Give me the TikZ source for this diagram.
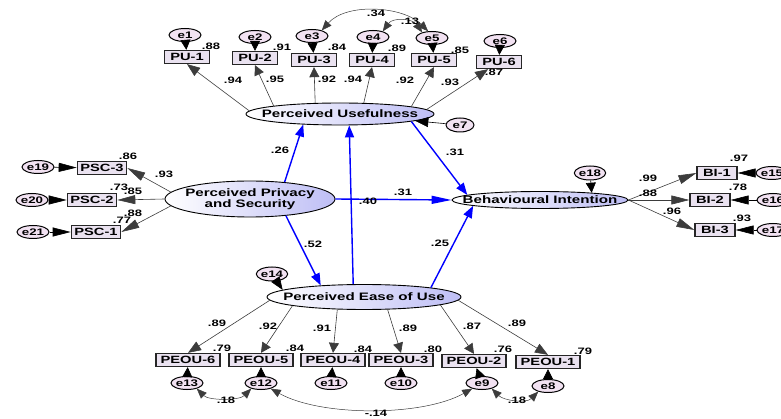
\documentclass[tikz,border=0pt]{standalone}
\usepackage{fontspec}
\setmainfont{Liberation Sans}[FakeStretch=1.4]
\usetikzlibrary{arrows.meta,shapes.geometric}
\definecolor{latR}{RGB}{190,190,245}
\definecolor{boxF}{RGB}{234,226,240}
\definecolor{errF}{RGB}{242,226,242}
\definecolor{ldC}{RGB}{60,60,60}
\begin{document}
\begin{tikzpicture}[x=1pt,y=-1pt,
  tv/.tip={Triangle[length=10pt,width=10pt]},
  td/.tip={Triangle[length=13pt,width=10pt]},
  th/.tip={Triangle[length=18pt,width=9pt]},
  bv/.tip={Triangle[length=12pt,width=9pt]},
  bh/.tip={Triangle[length=20pt,width=8pt]},
  ct/.tip={Triangle[length=10pt,width=8pt]},
  lat/.style={ellipse, draw=black, line width=0.9pt, left color=white, right color=latR, inner sep=0pt},
  lattxt/.style={font=\fontsize{10.8}{11}\selectfont\bfseries, align=center, inner sep=0pt},
  obs/.style={rectangle, draw=black!85, line width=1.3pt, fill=boxF, minimum height=13pt, inner xsep=3pt, inner ysep=0pt, font=\fontsize{10.5}{11}\selectfont\bfseries},
  err/.style={ellipse, draw=black, line width=1pt, fill=errF, minimum width=32pt, minimum height=13pt, inner sep=0pt, font=\fontsize{9.5}{10}\selectfont\bfseries},
  coef/.style={font=\fontsize{9.3}{10}\selectfont\bfseries, inner sep=0pt},
  ln/.style={draw=ldC, line width=0.6pt},
  ea/.style={draw=black, line width=0.6pt},
  bl/.style={draw=blue, line width=1.4pt},
  cov/.style={draw=ldC, line width=0.5pt, ct-ct}
]
\useasboundingbox (0,0) rectangle (781,419);
\clip (0,0) rectangle (781,419);

% latent variables
\node[lat, minimum width=188pt, minimum height=22pt, label={[lattxt,name=PUt]center:Perceived Usefulness}] (PU) at (340,114) {};
\node[lat, minimum width=170pt, minimum height=36pt, label={[lattxt,name=PPSt]center:Perceived Privacy\\and Security}] (PPS) at (250,199) {};
\node[lat, minimum width=194pt, minimum height=25pt, label={[lattxt,name=PEOUt]center:Perceived Ease of Use}] (PEOU) at (364,297) {};
\node[lat, minimum width=176pt, minimum height=17pt, label={[lattxt,name=BIt]center:Behavioural Intention}] (BI) at (540,200) {};

% PU indicators
\node[obs, minimum width=45pt] (PU1) at (187,57) {PU-1};
\node[obs, minimum width=45pt] (PU2) at (255,58) {PU-2};
\node[obs, minimum width=45pt] (PU3) at (314,60) {PU-3};
\node[obs, minimum width=45pt] (PU4) at (372,60) {PU-4};
\node[obs, minimum width=45pt] (PU5) at (434,60) {PU-5};
\node[obs, minimum width=45pt] (PU6) at (499,62) {PU-6};
\node[err] (e1) at (185,35) {e1};
\node[err] (e2) at (255,37) {e2};
\node[err] (e3) at (312,36) {e3};
\node[err] (e4) at (373,37) {e4};
\node[err] (e5) at (432,38) {e5};
\node[err] (e6) at (500,41) {e6};

% PSC indicators
\node[obs, minimum width=49pt] (PSC3) at (102,168) {PSC-3};
\node[obs, minimum width=49pt] (PSC2) at (92,200) {PSC-2};
\node[obs, minimum width=49pt] (PSC1) at (96,232) {PSC-1};
\node[err] (e19) at (38,167) {e19};
\node[err] (e20) at (32,200) {e20};
\node[err] (e21) at (33,232) {e21};

% BI indicators
\node[obs, minimum width=40pt] (BI1) at (717,173) {BI-1};
\node[obs, minimum width=40pt] (BI2) at (710,200) {BI-2};
\node[obs, minimum width=40pt] (BI3) at (715,230) {BI-3};
\node[err] (e15) at (772,173) {e15};
\node[err] (e16) at (773,200) {e16};
\node[err] (e17) at (773,230) {e17};

% PEOU indicators
\node[obs, minimum width=64pt] (PEOU6) at (188,360) {PEOU-6};
\node[obs, minimum width=64pt] (PEOU5) at (261,360) {PEOU-5};
\node[obs, minimum width=64pt] (PEOU4) at (333,360) {PEOU-4};
\node[obs, minimum width=64pt] (PEOU3) at (401,360) {PEOU-3};
\node[obs, minimum width=64pt] (PEOU2) at (474,361) {PEOU-2};
\node[obs, minimum width=64pt] (PEOU1) at (548,362) {PEOU-1};
\node[err] (e13) at (187,383) {e13};
\node[err] (e12) at (261,383) {e12};
\node[err] (e11) at (331,383) {e11};
\node[err] (e10) at (401,383) {e10};
\node[err] (e9) at (482,383) {e9};
\node[err] (e8) at (548,386) {e8};

% latent errors
\node[err, minimum width=28pt, minimum height=14pt] (e7) at (460,125) {e7};
\node[err, minimum width=28pt, minimum height=14pt] (e18) at (590,173) {e18};
\node[err, minimum width=28pt, minimum height=14pt] (e14) at (272,274) {e14};

\node[coef] (k6) at (494,72) {.87};

% loadings PU
\draw[ln,-td] (PU.178) -- (PU1.south);
\draw[ln,-tv] (PU.173) -- (PU2.south);
\draw[ln,-tv] (PU.156) -- (PU3.south);
\draw[ln,-tv] (PU.25) -- (PU4.south);
\draw[ln,-tv] (PU.6) -- (PU5.south);
\draw[ln,-td] (PU.3) -- (PU6);
\foreach \i in {1,...,6} {\draw[ea,-tv] (e\i) -- (PU\i);}

% loadings PSC
\draw[ln,-th] (PPS.175) -- (PSC3.east);
\draw[ln,-th] (PPS.west) -- (PSC2.east);
\draw[ln,-th] (PPS.185) -- (PSC1.east);
\draw[ea,-th] (e19) -- (PSC3);
\draw[ea,-th] (e20) -- (PSC2);
\draw[ea,-th] (e21) -- (PSC1);

% loadings BI
\draw[ln,-th] (BI.east) -- (BI1.west);
\draw[ln,-th] (BI.east) -- (BI2.west);
\draw[ln,-th] (BI.east) -- (BI3.west);
\draw[ea,-th] (e15) -- (BI1);
\draw[ea,-th] (e16) -- (BI2);
\draw[ea,-th] (e17) -- (BI3);

% loadings PEOU
\draw[ln,-td] (PEOU.182) -- (PEOU6.north);
\draw[ln,-tv] (PEOU.187) -- (PEOU5.north);
\draw[ln,-tv] (PEOU.205) -- (PEOU4.north);
\draw[ln,-tv] (PEOU.332) -- (PEOU3.north);
\draw[ln,-tv] (PEOU.354) -- (PEOU2.north);
\draw[ln,-td] (PEOU.358) -- (PEOU1.north);
\draw[ea,-tv] (e13) -- (PEOU6);
\draw[ea,-tv] (e12) -- (PEOU5);
\draw[ea,-tv] (e11) -- (PEOU4);
\draw[ea,-tv] (e10) -- (PEOU3);
\draw[ea,-tv] (e9) -- (PEOU2);
\draw[ea,-tv] (e8) -- (PEOU1);

% latent errors
\draw[ea,-td] (e7) -- (PU);
\draw[ea,-tv] (e18) -- (BI.8);
\draw[ea,-td] (e14) -- (PEOU.175);

% structural paths
\draw[bl,-bv] (PPS.26) -- (PU.196);
\draw[bl,-bv] (PEOU.130) -- (PU.309);
\draw[bl,-bv] (PU.354) -- (BI.176);
\draw[bl,-bh] (PPS.east) -- (BI.west);
\draw[bl,-bv] (PPS.335) -- (PEOU.165);
\draw[bl,-bv] (PEOU.8) -- (BI.185);

% covariances
\draw[cov] (e3.30) .. controls +(25,-28) and +(-25,-25) .. (e5.120);
\draw[cov] (e4.30) .. controls +(10,-14) and +(-10,-14) .. (e5.150);
\draw[cov] (e13.-30) .. controls +(12,12) and +(-12,12) .. (e12.-150);
\draw[cov] (e12.-30) .. controls +(50,28) and +(-50,28) .. (e9.-150);
\draw[cov] (e9.-30) .. controls +(12,12) and +(-12,12) .. (e8.-150);

% coefficients
\node[coef] (k1) at (211,46) {.88};
\node[coef] (k2) at (282,47) {.91};
\node[coef] (k3) at (337,47) {.84};
\node[coef] (k4) at (397,48) {.89};
\node[coef] (k5) at (460,50) {.85};
\node[coef] (m1) at (233,80) {.94};
\node[coef] (m2) at (275,79) {.95};
\node[coef] (m3) at (327,79) {.92};
\node[coef] (m4) at (353,79) {.94};
\node[coef] (m5) at (405,80) {.92};
\node[coef] (m6) at (450,82) {.93};
\node[coef] (c34) at (376,13) {.34};
\node[coef] (c13) at (410,21) {.13};

\node[coef] (p1) at (128,156) {.86};
\node[coef] (p2) at (164,174) {.93};
\node[coef] (p3) at (119,187) {.73};
\node[coef] (p4) at (133,191) {.85};
\node[coef] (p5) at (133,213) {.88};
\node[coef] (p6) at (122,220) {.77};

\node[coef] (b1) at (739,158) {.97};
\node[coef] (b2) at (738,187) {.78};
\node[coef] (b3) at (742,218) {.93};
\node[coef] (b4) at (648,178) {.99};
\node[coef] (b5) at (648,193) {.88};
\node[coef] (b6) at (672,211) {.96};

\node[coef] (s1) at (280,150) {.26};
\node[coef] (s2) at (368,201) {.40};
\node[coef] (s3) at (455,152) {.31};
\node[coef] (s4) at (403,192) {.31};
\node[coef] (s5) at (313,244) {.52};
\node[coef] (s6) at (440,243) {.25};

\node[coef] (q1) at (217,323) {.89};
\node[coef] (q2) at (268,326) {.92};
\node[coef] (q3) at (322,328) {.91};
\node[coef] (q4) at (408,328) {.89};
\node[coef] (q5) at (472,326) {.87};
\node[coef] (q6) at (517,323) {.89};
\node[coef] (r1) at (222,348) {.79};
\node[coef] (r2) at (295,348) {.84};
\node[coef] (r3) at (363,349) {.84};
\node[coef] (r4) at (433,349) {.80};
\node[coef] (r5) at (503,349) {.76};
\node[coef] (r6) at (583,351) {.79};

\node[coef] (v1) at (226,400) {.18};
\node[coef] (v2) at (376,413) {-.14};
\node[coef] (v3) at (517,400) {.18};
\end{tikzpicture}
\end{document}
